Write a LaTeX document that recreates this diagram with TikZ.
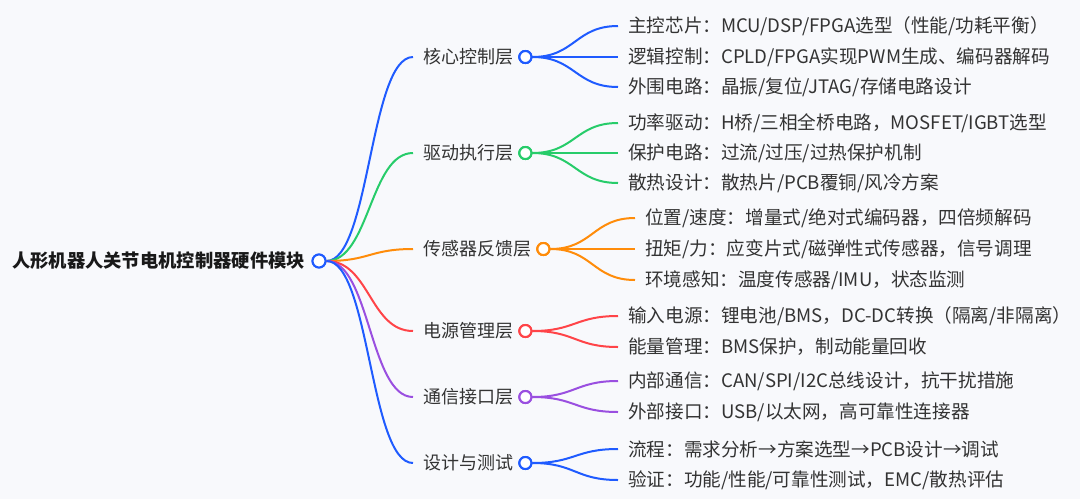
\documentclass[tikz,border=0pt]{standalone}
\usepackage{fontspec}
\setmainfont{Noto Sans CJK SC}
\usetikzlibrary{positioning,calc}
\definecolor{bgc}{HTML}{F8F9FC}
\definecolor{cblue}{HTML}{1F5BFF}
\definecolor{cgreen}{HTML}{27CC6A}
\definecolor{corange}{HTML}{FF8C0A}
\definecolor{cred}{HTML}{FF4448}
\definecolor{cpurple}{HTML}{9A4FE0}
\definecolor{txt}{HTML}{333333}
\tikzset{
  roottext/.style={anchor=west,inner sep=0pt,font=\fontsize{18.3}{20}\selectfont\bfseries,text=black!90},
  brtext/.style={anchor=west,inner sep=0pt,font=\fontsize{18}{20}\selectfont,text=txt},
  leaftext/.style={anchor=west,inner sep=0pt,font=\fontsize{18.6}{20}\selectfont,text=txt},
  dot/.style={circle,draw=#1,line width=2pt,fill=white,minimum size=12pt,inner sep=0pt},
  link/.style={draw=#1,line width=2pt}
}
\newcommand{\curveto}[3]{\draw[link=#1] let \p1=(#2), \p2=(#3) in (\p1) .. controls ({(\x1+\x2)/2},\y1) and ({(\x1+\x2)/2},\y2) .. (\p2);}
\begin{document}
\begin{tikzpicture}[x=1pt,y=-1pt]
\fill[bgc] (0,0) rectangle (1080,499);
\useasboundingbox (0,0) rectangle (1080,499);

% root
\node[roottext] (root) at (12,261) {人形机器人关节电机控制器硬件模块};
\node[dot=cblue,minimum size=13pt] (rc) at (319,261) {};

% branches
\foreach \nm/\yy/\cc/\tt in {b1/57/cblue/核心控制层, b2/153/cgreen/驱动执行层, b3/249/corange/传感器反馈层, b4/331/cred/电源管理层, b5/397/cpurple/通信接口层, b6/463/cblue/设计与测试}{
  \coordinate (\nm-in) at (413,\yy);
  \node[brtext] (\nm) at (423,\yy) {\tt};
  \node[dot=\cc,anchor=west] (\nm-c) at ([xshift=5pt]\nm.east) {};
}
\curveto{cblue}{rc.east}{b1-in}
\curveto{cgreen}{rc.east}{b2-in}
\curveto{corange}{rc.east}{b3-in}
\curveto{cred}{rc.east}{b4-in}
\curveto{cpurple}{rc.east}{b5-in}
\curveto{cblue}{rc.east}{b6-in}
\node[dot=cblue,minimum size=13pt] at (rc) {};

% leaves
\foreach \nm/\xx/\yy/\cc/\pp/\tt in {
 l11/628/26/cblue/b1/{主控芯片：MCU/DSP/FPGA选型（性能/功耗平衡）},
 l12/628/57/cblue/b1/{逻辑控制：CPLD/FPGA实现PWM生成、编码器解码},
 l13/628/87/cblue/b1/{外围电路：晶振/复位/JTAG/存储电路设计},
 l21/628/123/cgreen/b2/{功率驱动：H桥/三相全桥电路，MOSFET/IGBT选型},
 l22/628/153/cgreen/b2/{保护电路：过流/过压/过热保护机制},
 l23/628/183/cgreen/b2/{散热设计：散热片/PCB覆铜/风冷方案},
 l31/645/218/corange/b3/{位置/速度：增量式/绝对式编码器，四倍频解码},
 l32/645/249/corange/b3/{扭矩/力：应变片式/磁弹性式传感器，信号调理},
 l33/645/280/corange/b3/{环境感知：温度传感器/IMU，状态监测},
 l41/628/316/cred/b4/{输入电源：锂电池/BMS，DC-DC转换（隔离/非隔离）},
 l42/628/347/cred/b4/{能量管理：BMS保护，制动能量回收},
 l51/628/381/cpurple/b5/{内部通信：CAN/SPI/I2C总线设计，抗干扰措施},
 l52/628/412/cpurple/b5/{外部接口：USB/以太网，高可靠性连接器},
 l61/628/449/cblue/b6/{流程：需求分析→方案选型→PCB设计→调试},
 l62/628/480/cblue/b6/{验证：功能/性能/可靠性测试，EMC/散热评估}}{
  \node[leaftext] (\nm) at (\xx,\yy) {\tt};
  \coordinate (\nm-in) at ([xshift=-10pt]\nm.west);
  \curveto{\cc}{\pp-c.east}{\nm-in}
  \node[dot=\cc,anchor=west] at ([xshift=5pt]\pp.east) {};
}
\end{tikzpicture}
\end{document}
